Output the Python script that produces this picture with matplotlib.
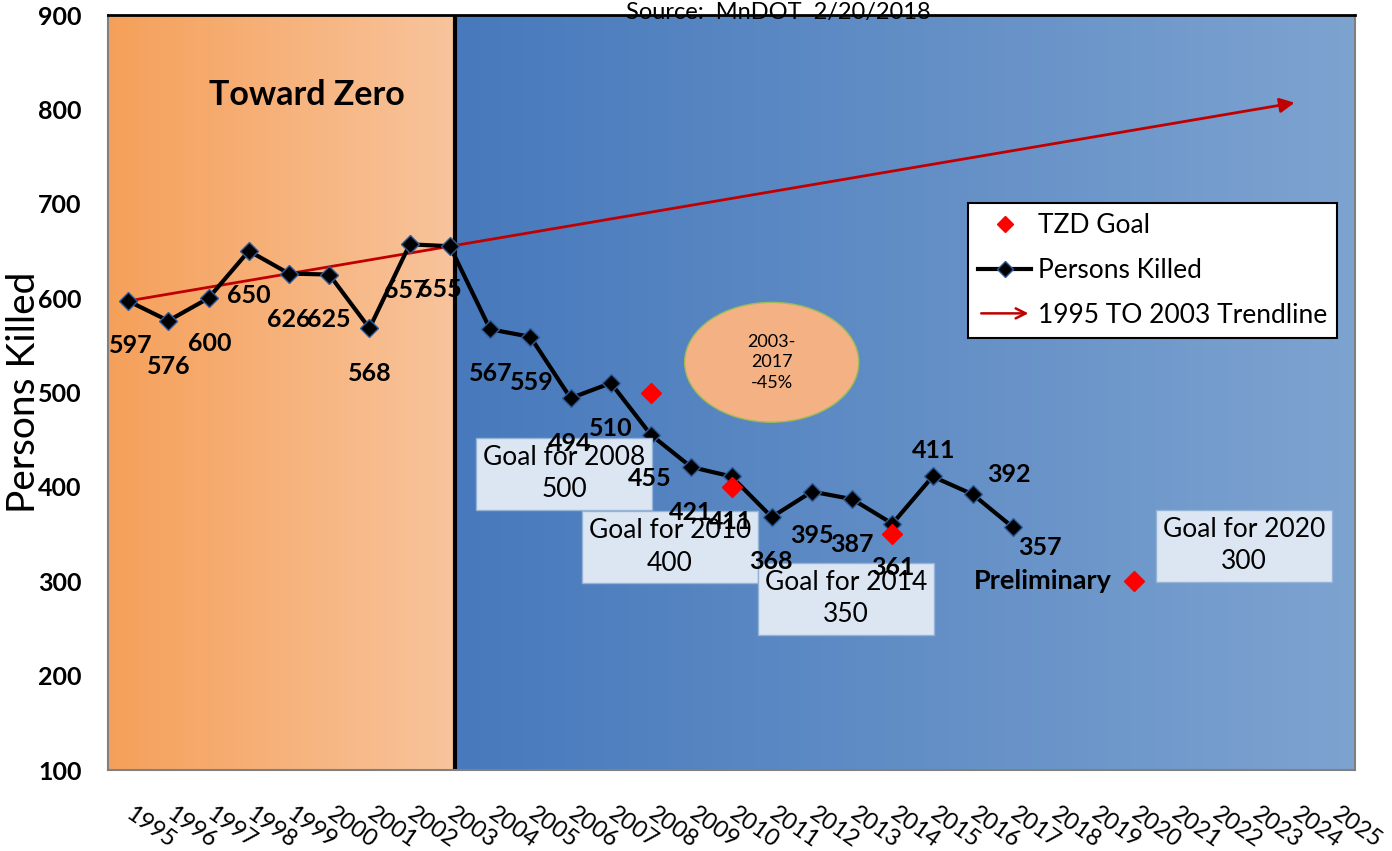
import numpy as np
import matplotlib.pyplot as plt
import matplotlib.transforms as mtransforms
from matplotlib.lines import Line2D
from matplotlib.patches import Ellipse, FancyArrowPatch
from matplotlib.legend_handler import HandlerBase
from matplotlib.colors import LinearSegmentedColormap

plt.rcParams['font.family'] = ['Lato', 'DejaVu Sans']

# data
all_years = list(range(1995, 2026))
years = list(range(1995, 2018))
killed = [597, 576, 600, 650, 626, 625, 568, 657, 655, 567, 559, 494, 510,
          455, 421, 411, 368, 395, 387, 361, 411, 392, 357]
goal_years = [2008, 2010, 2014, 2020]
goal_values = [500, 400, 350, 300]
trend_years = [1995, 2024]
trend_values = [597, 807]

# label offsets (pixels, right/up)
label_off = [(3, -45), (0, -46), (1, -45), (0, -45), (0, -46), (0, -45), (0, -45),
             (-4, -46), (-10, -43), (1, -44), (1, -46), (-1, -45), (0, -45),
             (-1, -44), (-1, -45), (-1, -45), (-1, -44), (0, -44), (0, -45),
             (0, -44), (1, 26), (36, 20), (27, -20)]

def xi(year):
    return all_years.index(year)

fig = plt.figure(figsize=(13.92, 8.51), dpi=100)
ax = fig.add_axes([108 / 1392, 1 - 770 / 851, 1247 / 1392, 755 / 851])
ax.set_xlim(-0.5, len(all_years) - 0.5)
ax.set_ylim(100, 900)

# backgrounds
split = xi(2003) + 0.12
orange = LinearSegmentedColormap.from_list('o', ['#F5A05A', '#F8C49C'])
blue = LinearSegmentedColormap.from_list('b', ['#4779BC', '#7DA3D0'])
grad = np.linspace(0, 1, 256).reshape(1, -1)
ax.imshow(grad, cmap=orange, extent=[-0.5, split, 100, 900], aspect='auto', zorder=0)
ax.imshow(grad, cmap=blue, extent=[split, len(all_years) - 0.5, 100, 900], aspect='auto', zorder=0)
ax.axvline(split, color='black', lw=3, zorder=2)

# ellipse
ax.add_patch(Ellipse((16.0, 532), 4.33, 127, facecolor='#F4B183', edgecolor='#9BBB59',
                     lw=1, zorder=1))
ax.text(16.0, 532, '2003-\n2017\n-45%', ha='center', va='center', fontsize=13,
        linespacing=1.35, zorder=2)

# trendline
ax.annotate('', xy=(xi(trend_years[1]), trend_values[1]),
            xytext=(xi(trend_years[0]), trend_values[0]),
            arrowprops=dict(arrowstyle='-|>', color='#C00000', lw=2,
                            mutation_scale=22, shrinkA=0, shrinkB=0), zorder=3)

# persons killed
xs = [xi(y) for y in years]
ax.plot(xs, killed, color='black', lw=3, marker='D', markersize=9.5,
        markerfacecolor='black', markeredgecolor='#2E5C9A', markeredgewidth=1, zorder=4)
for x, v, (dx, dy) in zip(xs, killed, label_off):
    ax.annotate(str(v), (x, v), xytext=(dx * 0.72, dy * 0.72), textcoords='offset points',
                ha='center', va='center', fontsize=18, fontweight='bold', zorder=6)

# goal boxes
box_pos = [(10.84, 414), (13.47, 336), (17.85, 281.6), (27.74, 337.7)]
for (bx, by), gy, gv in zip(box_pos, goal_years, goal_values):
    ax.text(bx, by, f'Goal for {gy}\n{gv}', ha='center', va='center', fontsize=19,
            linespacing=1.38, zorder=5,
            bbox=dict(boxstyle='square,pad=0.27', facecolor='#DCE6F2', edgecolor='#95B3D7', lw=1))

# goals
ax.plot([xi(y) for y in goal_years], goal_values, ls='none', marker='D', markersize=10,
        color='#FF0000', zorder=7)

ax.text(24.45, 300, 'Preliminary', ha='right', va='center', fontsize=19.5,
        fontweight='bold', zorder=6)
ax.text(4.45, 815, 'Toward Zero', ha='center', va='center', fontsize=24.5,
        fontweight='bold', zorder=6)

fig.text(778 / 1392, 1 - 13 / 851, 'Source:  MnDOT  2/20/2018', ha='center', va='center',
         fontsize=17)

# axes styling
ax.set_yticks(range(100, 1000, 100))
for lbl in ax.get_yticklabels():
    lbl.set_fontweight('bold')
ax.tick_params(axis='y', length=0, pad=19, labelsize=18)
ax.set_xticks(range(len(all_years)))
ax.set_xticklabels([str(y) for y in all_years], rotation=-35, ha='left', va='top',
                   rotation_mode='anchor', fontsize=17)
ax.tick_params(axis='x', length=0, pad=24)
shift = mtransforms.ScaledTranslation(6 / 100, 0, fig.dpi_scale_trans)
for lbl in ax.get_xticklabels():
    lbl.set_transform(lbl.get_transform() + shift)
ax.set_ylabel('Persons Killed', fontsize=28)
ax.yaxis.set_label_coords(-0.053, 0.5)

for side in ['left', 'right', 'bottom']:
    ax.spines[side].set_color('#808080')
    ax.spines[side].set_linewidth(1.5)
ax.spines['top'].set_color('black')
ax.spines['top'].set_linewidth(2)

# legend
class ArrowHandler(HandlerBase):
    def create_artists(self, legend, orig_handle, xdescent, ydescent, width, height,
                       fontsize, trans):
        y = height / 2 - ydescent
        a = FancyArrowPatch((-xdescent, y), (width - xdescent, y), arrowstyle='->',
                            mutation_scale=18, color='#C00000', lw=1.8, transform=trans)
        return [a]

h_goal = Line2D([], [], ls='none', marker='D', markersize=8, color='#FF0000')
h_killed = Line2D([], [], color='black', lw=3, marker='D', markersize=8,
                  markerfacecolor='black', markeredgecolor='#2E5C9A')
h_trend = Line2D([], [], color='#C00000')
leg = ax.legend([h_goal, h_killed, h_trend],
                ['TZD Goal', 'Persons Killed', '1995 TO 2003 Trendline'],
                handler_map={h_trend: ArrowHandler()},
                loc='upper left', bbox_to_anchor=(0.69, 0.751), borderaxespad=0,
                fontsize=19, fancybox=False, framealpha=1, edgecolor='black',
                handlelength=2.0, handletextpad=0.25, labelspacing=0.75, borderpad=0.38)
leg.get_frame().set_linewidth(1.5)
leg.set_zorder(8)

plt.savefig('out.png', dpi=100)
